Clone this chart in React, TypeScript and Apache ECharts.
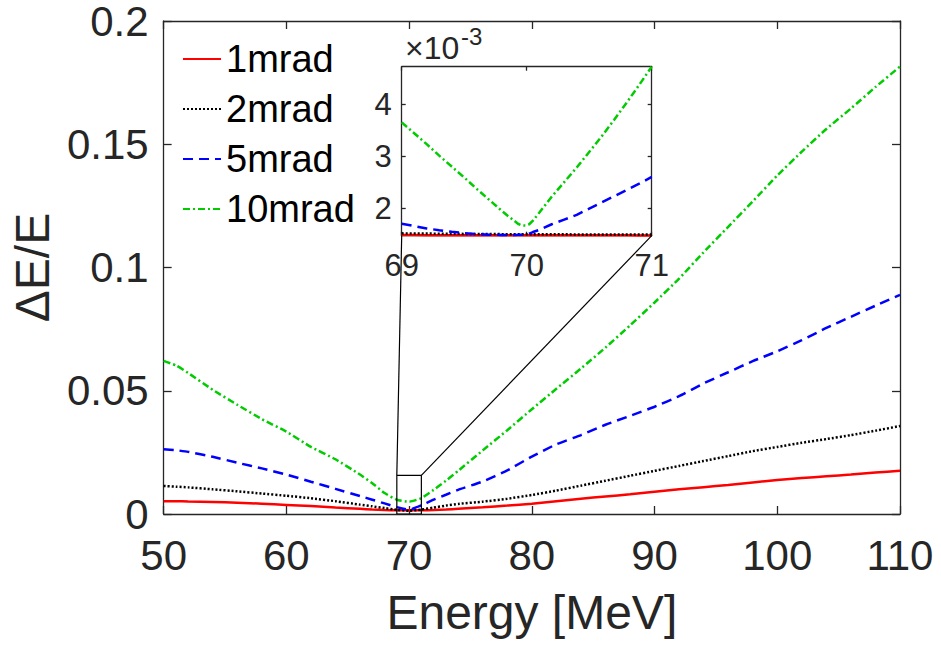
import React, { useEffect, useRef } from "react";
import * as echarts from "echarts";

const FONT = "'Liberation Sans', Arial, Helvetica, sans-serif";
const AXIS_COLOR = "#262626";

// ---- main plot data ----
const energy = [50, 51, 52, 54, 56, 58, 60, 62, 64, 66, 67, 68, 69, 70, 71, 72, 73, 74, 76, 78, 80, 82, 84, 86, 88, 90, 92, 94, 96, 98, 100, 102, 104, 106, 108, 110];
const mrad1 = [0.0052, 0.0052, 0.0051, 0.0049, 0.0046, 0.0042, 0.0037, 0.0032, 0.0026, 0.0021, 0.0018, 0.0016, 0.0015, 0.0015, 0.0015, 0.0016, 0.0018, 0.0021, 0.0027, 0.0034, 0.0042, 0.0052, 0.0062, 0.0071, 0.0080, 0.0090, 0.0100, 0.0109, 0.0118, 0.0128, 0.0138, 0.0146, 0.0153, 0.0160, 0.0168, 0.0175];
const mrad2 = [0.0114, 0.0111, 0.0108, 0.0100, 0.0092, 0.0083, 0.0074, 0.0064, 0.0052, 0.0038, 0.0031, 0.0024, 0.0017, 0.0013, 0.0018, 0.0026, 0.0034, 0.0041, 0.0050, 0.0062, 0.0077, 0.0095, 0.0115, 0.0135, 0.0155, 0.0175, 0.0195, 0.0215, 0.0235, 0.0255, 0.0272, 0.0289, 0.0304, 0.0320, 0.0338, 0.0357];
const mrad5 = [0.0263, 0.0259, 0.0252, 0.0232, 0.0208, 0.0185, 0.0160, 0.0131, 0.0102, 0.0073, 0.0058, 0.0043, 0.0028, 0.0017, 0.0035, 0.0058, 0.0078, 0.0098, 0.0132, 0.0177, 0.0233, 0.0283, 0.0320, 0.0362, 0.0398, 0.0435, 0.0478, 0.0530, 0.0575, 0.0620, 0.0660, 0.0705, 0.0755, 0.0800, 0.0845, 0.0889];
const mrad10 = [0.0621, 0.0603, 0.0572, 0.0504, 0.0443, 0.0385, 0.0334, 0.0272, 0.0222, 0.0160, 0.0125, 0.0085, 0.0058, 0.0050, 0.0064, 0.0098, 0.0135, 0.0175, 0.0258, 0.0340, 0.0425, 0.0508, 0.0590, 0.0675, 0.0765, 0.0858, 0.0955, 0.1062, 0.1165, 0.1268, 0.1373, 0.1470, 0.1562, 0.1645, 0.1732, 0.1815];

// ---- inset data (values in units of 1e-3) ----
const insetEnergy = [69, 69.1, 69.2, 69.3, 69.4, 69.5, 69.6, 69.7, 69.8, 69.85, 69.9, 69.93, 69.96, 69.99, 70.02, 70.05, 70.1, 70.2, 70.3, 70.4, 70.5, 70.6, 70.7, 70.8, 70.9, 71];
const inset1 = [1.482, 1.482, 1.481, 1.481, 1.480, 1.480, 1.479, 1.479, 1.479, 1.479, 1.478, 1.478, 1.478, 1.478, 1.478, 1.478, 1.478, 1.478, 1.478, 1.477, 1.477, 1.477, 1.477, 1.477, 1.476, 1.476];
const inset2 = [1.515, 1.513, 1.511, 1.509, 1.507, 1.505, 1.503, 1.502, 1.500, 1.500, 1.499, 1.499, 1.498, 1.498, 1.498, 1.497, 1.497, 1.496, 1.496, 1.495, 1.495, 1.495, 1.494, 1.494, 1.494, 1.493];
const inset5 = [1.70, 1.655, 1.61, 1.575, 1.545, 1.52, 1.50, 1.49, 1.485, 1.485, 1.485, 1.486, 1.488, 1.495, 1.51, 1.54, 1.58, 1.69, 1.78, 1.87, 1.99, 2.11, 2.23, 2.35, 2.47, 2.60];
const inset10 = [3.65, 3.44, 3.23, 3.01, 2.80, 2.59, 2.37, 2.16, 1.95, 1.85, 1.76, 1.70, 1.67, 1.665, 1.69, 1.76, 1.91, 2.22, 2.50, 2.78, 3.08, 3.38, 3.70, 4.03, 4.37, 4.72];

const seriesNames = ["1mrad", "2mrad", "5mrad", "10mrad"];
const mainValues = [mrad1, mrad2, mrad5, mrad10];
const insetValues = [inset1, inset2, inset5, inset10];
const colors = ["#ff0000", "#000000", "#0000ff", "#00cc00"];
const dashTypes: any[] = ["solid", [2, 2], [10, 6], [7, 3, 2, 3]];

// axis ranges / ticks
const xMain = { min: 50, max: 110, interval: 10 };
const yMain = { min: 0, max: 0.2, interval: 0.05 };
const xInset = { min: 69, max: 71, interval: 1 };
const yInset = { min: 1.47, max: 4.72 };
const insetYTicks = [2, 3, 4];
const zoomBox = { x0: 69, x1: 71, y0: 0, y1: 0.0157 };

export default function App() {
  const ref = useRef<HTMLDivElement>(null);
  useEffect(() => {
    if (!ref.current) return;
    const chart = echarts.init(ref.current, undefined, { renderer: "svg" });
    const lineStyleAxis = { color: AXIS_COLOR, width: 1.3 };
    const mirrorX = (grid: number, r: any, len: number) => ({
      gridIndex: grid, type: "value", ...r, position: "top",
      axisLine: { show: true, onZero: false, lineStyle: lineStyleAxis },
      axisTick: { show: true, inside: true, length: len, lineStyle: lineStyleAxis },
      axisLabel: { show: false }, splitLine: { show: false },
    });
    const mirrorY = (grid: number, r: any, len: number, extra: any = {}) => ({
      gridIndex: grid, type: "value", ...r, position: "right",
      axisLine: { show: true, onZero: false, lineStyle: lineStyleAxis },
      axisTick: { show: true, inside: true, length: len, lineStyle: lineStyleAxis, ...extra },
      axisLabel: { show: false }, splitLine: { show: false },
    });

    const series: any[] = [];
    mainValues.forEach((vals, i) => {
      series.push({
        name: seriesNames[i], type: "line", xAxisIndex: 0, yAxisIndex: 0,
        data: energy.map((e, k) => [e, vals[k]]), symbol: "none", showSymbol: false,
        smooth: 0.15,
        lineStyle: { color: colors[i], width: 2.5, type: dashTypes[i] },
        itemStyle: { color: colors[i] }, z: 3 + i,
      });
    });
    series.push({
      name: "zoomBox", type: "line", xAxisIndex: 0, yAxisIndex: 0, symbol: "none", silent: true,
      data: [[zoomBox.x0, zoomBox.y0], [zoomBox.x0, zoomBox.y1], [zoomBox.x1, zoomBox.y1], [zoomBox.x1, zoomBox.y0], [zoomBox.x0, zoomBox.y0]],
      lineStyle: { color: "#000", width: 1.2 }, z: 10,
    });
    insetValues.forEach((vals, i) => {
      series.push({
        name: "inset " + seriesNames[i], type: "line", xAxisIndex: 2, yAxisIndex: 2,
        data: insetEnergy.map((e, k) => [e, vals[k]]), symbol: "none", showSymbol: false,
        lineStyle: { color: colors[i], width: 2.5, type: dashTypes[i] }, z: 3 + i,
      });
    });

    chart.setOption({
      animation: false,
      backgroundColor: "#ffffff",
      textStyle: { fontFamily: FONT },
      title: [
        { text: "×10", left: 405, top: 32, padding: 0, textStyle: { fontSize: 32, fontWeight: "normal", color: AXIS_COLOR, fontFamily: FONT, lineHeight: 32 } },
        { text: "-3", left: 461, top: 24, padding: 0, textStyle: { fontSize: 24, fontWeight: "normal", color: AXIS_COLOR, fontFamily: FONT, lineHeight: 24 } },
      ],
      grid: [
        { left: 162, top: 17, width: 738, height: 497, show: false },
        { left: 401.7, top: 66.7, width: 250, height: 169, show: true, backgroundColor: "#ffffff", borderWidth: 0 },
      ],
      legend: {
        data: seriesNames, orient: "vertical", left: 182, top: 39, padding: 0,
        itemWidth: 38, itemHeight: 14, itemGap: 10, selectedMode: false,
        itemStyle: { opacity: 0 },
        textStyle: { fontSize: 38, color: "#000", lineHeight: 40, fontFamily: FONT },
      },
      xAxis: [
        {
          gridIndex: 0, type: "value", ...xMain, position: "bottom",
          axisLine: { show: true, onZero: false, lineStyle: lineStyleAxis },
          axisTick: { show: true, inside: true, length: 8, lineStyle: lineStyleAxis },
          axisLabel: { fontSize: 42, color: AXIS_COLOR, margin: 20, fontFamily: FONT },
          splitLine: { show: false },
          name: "Energy [MeV]", nameLocation: "middle", nameGap: 74,
          nameTextStyle: { fontSize: 48, color: AXIS_COLOR, fontFamily: FONT },
        },
        mirrorX(0, xMain, 8),
        {
          gridIndex: 1, type: "value", ...xInset, position: "bottom",
          axisLine: { show: true, onZero: false, lineStyle: lineStyleAxis },
          axisTick: { show: true, inside: true, length: 4, lineStyle: lineStyleAxis },
          axisLabel: { fontSize: 31, color: AXIS_COLOR, margin: 14, fontFamily: FONT },
          splitLine: { show: false },
        },
        mirrorX(1, xInset, 4),
      ],
      yAxis: [
        {
          gridIndex: 0, type: "value", ...yMain, position: "left",
          axisLine: { show: true, onZero: false, lineStyle: lineStyleAxis },
          axisTick: { show: true, inside: true, length: 8, lineStyle: lineStyleAxis },
          axisLabel: { fontSize: 42, color: AXIS_COLOR, margin: 15, fontFamily: FONT, lineHeight: 26, padding: [6, 0, 0, 0] },
          splitLine: { show: false },
          name: "ΔE/E", nameLocation: "middle", nameGap: 105,
          nameTextStyle: { fontSize: 48, color: AXIS_COLOR, fontFamily: FONT },
        },
        mirrorY(0, yMain, 8),
        {
          gridIndex: 1, type: "value", ...yInset, position: "left",
          axisLine: { show: true, onZero: false, lineStyle: lineStyleAxis },
          axisTick: { show: true, inside: true, length: 4, lineStyle: lineStyleAxis, customValues: insetYTicks },
          axisLabel: { fontSize: 31, color: AXIS_COLOR, margin: 10, fontFamily: FONT, customValues: insetYTicks },
          splitLine: { show: false },
        },
        mirrorY(1, yInset, 4, { customValues: insetYTicks }),
      ],
      series,
    });

    const pA = chart.convertToPixel({ xAxisIndex: 0, yAxisIndex: 0 }, [zoomBox.x0, zoomBox.y1]) as number[];
    const pB = chart.convertToPixel({ xAxisIndex: 0, yAxisIndex: 0 }, [zoomBox.x1, zoomBox.y1]) as number[];
    const pC = chart.convertToPixel({ xAxisIndex: 2, yAxisIndex: 2 }, [xInset.min, yInset.min]) as number[];
    const pD = chart.convertToPixel({ xAxisIndex: 2, yAxisIndex: 2 }, [xInset.max, yInset.min]) as number[];

    chart.setOption({
      graphic: [
        { type: "line", shape: { x1: pA[0], y1: pA[1], x2: pC[0], y2: pC[1] }, style: { stroke: "#000", lineWidth: 1.2 }, z: 10, silent: true },
        { type: "line", shape: { x1: pB[0], y1: pB[1], x2: pD[0], y2: pD[1] }, style: { stroke: "#000", lineWidth: 1.2 }, z: 10, silent: true },
      ],
    });

    return () => chart.dispose();
  }, []);
  return <div ref={ref} style={{ position: "fixed", left: 0, top: 0, width: 941, height: 646, background: "#fff" }} />;
}
